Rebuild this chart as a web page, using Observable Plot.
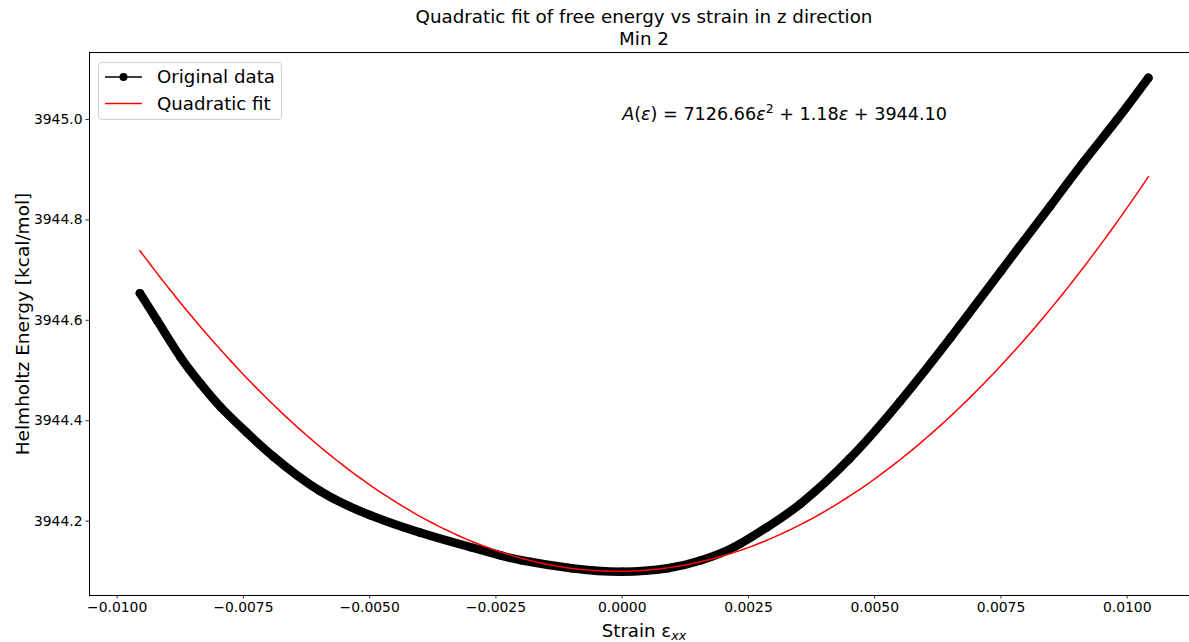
<!DOCTYPE html>
<html>
<head>
<meta charset="utf-8">
<script src="https://cdn.jsdelivr.net/npm/d3@7"></script>
<script src="https://cdn.jsdelivr.net/npm/@observablehq/plot@0.6"></script>
<style>
  body { margin: 0; background: #fff; font-family: "DejaVu Sans", sans-serif; color: #000; }
  #wrap { position: relative; width: 1189px; height: 642px; overflow: hidden; }
  #chart { position: absolute; left: 0; top: 0; }
  .title { position: absolute; left: 344px; width: 600px; text-align: center; font-size: 18.3px; line-height: 22px; top: 6px; }
  .ylabel { position: absolute; left: 22px; top: 323.5px; font-size: 18.5px; white-space: nowrap;
            transform: translate(-50%, -50%) rotate(-90deg); }
  .xlabel { position: absolute; left: 644px; top: 630px; font-size: 18.2px; white-space: nowrap;
            transform: translate(-50%, -50%); }
  .xlabel sub { font-style: italic; font-size: 70%; vertical-align: -0.25em; line-height: 0; }
  #legend { position: absolute; left: 98px; top: 62px; width: 182px; height: 56px;
            border: 1px solid #d0d0d0; border-radius: 4px; background: rgba(255,255,255,0.85); }
  #legend svg { position: absolute; left: 0; top: 0; }
  #legend .lab { position: absolute; left: 58px; font-size: 18.2px; line-height: 22px; white-space: nowrap; }
</style>
</head>
<body>
<div id="wrap">
  <div id="chart"></div>
  <div class="title">Quadratic fit of free energy vs strain in z direction<br>Min 2</div>
  <div class="ylabel">Helmholtz Energy [kcal/mol]</div>
  <div class="xlabel">Strain ε<sub>xx</sub></div>
  <div id="legend">
    <svg width="182" height="56">
      <line x1="6" x2="43" y1="14" y2="14" stroke="#000" stroke-width="1.5"></line>
      <circle cx="24.5" cy="14" r="4" fill="#000"></circle>
      <line x1="6" x2="43" y1="40.5" y2="40.5" stroke="#ff0000" stroke-width="1.5"></line>
    </svg>
    <div class="lab" style="top:3px">Original data</div>
    <div class="lab" style="top:29.5px">Quadratic fit</div>
  </div>
</div>
<script>
// Strain (ε_xx) samples and the Helmholtz energy computed at each one
const strain = [-0.00955, -0.00921, -0.00875, -0.00835, -0.00795, -0.00743, -0.0069, -0.006,
  -0.005, -0.004, -0.003, -0.0024, -0.002, -0.001, 0, 0.0009, 0.00155, 0.00221, 0.00287,
  0.00353, 0.0045, 0.0055, 0.0065, 0.0075, 0.00795, 0.00848, 0.00914, 0.0098, 0.01042];
const energy = [3944.654, 3944.600, 3944.527, 3944.474, 3944.427, 3944.376, 3944.328, 3944.261,
  3944.212, 3944.177, 3944.148, 3944.1315, 3944.122, 3944.106, 3944.099, 3944.106, 3944.1215,
  3944.148, 3944.188, 3944.2345, 3944.324, 3944.438, 3944.565, 3944.698, 3944.758, 3944.828,
  3944.916, 3945.000, 3945.083];

// Quadratic fit coefficients: A(ε) = a ε² + b ε + c
const fitCoef = [7126.66, 1.18, 3944.10];

const xTicks = [-0.01, -0.0075, -0.005, -0.0025, 0, 0.0025, 0.005, 0.0075, 0.01];
const yTicks = [3944.2, 3944.4, 3944.6, 3944.8, 3945.0];

const data = strain.map((s, i) => ({strain: s, energy: energy[i]}));

// Evaluate the fitted parabola across the sampled strain range
const [a, b, c] = fitCoef;
const sMin = d3.min(strain), sMax = d3.max(strain);
const fit = d3.range(0, 201).map(k => {
  const s = sMin + (sMax - sMin) * k / 200;
  return {strain: s, energy: a * s * s + b * s + c};
});

const xDomain = [-0.010548, 0.011234];
const yDomain = [3944.0518, 3945.1335];

const plot = Plot.plot({
  width: 1189,
  height: 642,
  marginLeft: 89,
  marginRight: 0,
  marginTop: 52,
  marginBottom: 47,
  style: {fontFamily: "DejaVu Sans, sans-serif", fontSize: "13.9px", color: "#000", background: "transparent"},
  x: {domain: xDomain},
  y: {domain: yDomain},
  marks: [
    Plot.axisX({ticks: xTicks, tickSize: 3.5, tickPadding: 3.5, label: null,
      tickFormat: d => (d < 0 ? "\u2212" : "") + Math.abs(d).toFixed(4), stroke: "#000", strokeWidth: 0.8}),
    Plot.axisY({ticks: yTicks, tickSize: 3.5, tickPadding: 3.5, label: null,
      tickFormat: d => d.toFixed(1), stroke: "#000", strokeWidth: 0.8}),
    // spines
    Plot.ruleX([xDomain[0]], {stroke: "#000", strokeWidth: 1}),
    Plot.ruleY([yDomain[0], yDomain[1]], {stroke: "#000", strokeWidth: 1}),
    // original data: dense markers joined by a line
    Plot.line(data, {x: "strain", y: "energy", stroke: "#000", strokeWidth: 8.6,
      strokeLinecap: "round", strokeLinejoin: "round", curve: "natural"}),
    Plot.dot(data, {x: "strain", y: "energy", r: 4.3, fill: "#000", stroke: "none"}),
    // quadratic fit
    Plot.line(fit, {x: "strain", y: "energy", stroke: "#ff0000", strokeWidth: 1.5}),
    // fit equation, anchored at (0, 3945.0)
    Plot.text([{strain: 0, energy: 3945.0}], {x: "strain", y: "energy", text: () => "eq",
      textAnchor: "start", lineAnchor: "bottom", fontSize: 17.6, fill: "#000", className: "fit-eq"})
  ]
});

document.getElementById("chart").appendChild(plot);

// Typeset the equation with italic symbols and a superscript
const eq = d3.select(plot).select(".fit-eq text");
eq.text(null);
const parts = [
  {t: "A", i: true}, {t: "("}, {t: "ε", i: true}, {t: ") = "},
  {t: a.toFixed(2)}, {t: "ε", i: true}, {t: "2", sup: true},
  {t: " + " + b.toFixed(2), back: true}, {t: "ε", i: true}, {t: " + " + c.toFixed(2)}
];
for (const p of parts) {
  const ts = eq.append("tspan").text(p.t);
  if (p.i) ts.attr("font-style", "italic");
  if (p.sup) ts.attr("font-size", "12.5px").attr("dy", "-7");
  if (p.back) ts.attr("dy", "7");
}
</script>
</body>
</html>
